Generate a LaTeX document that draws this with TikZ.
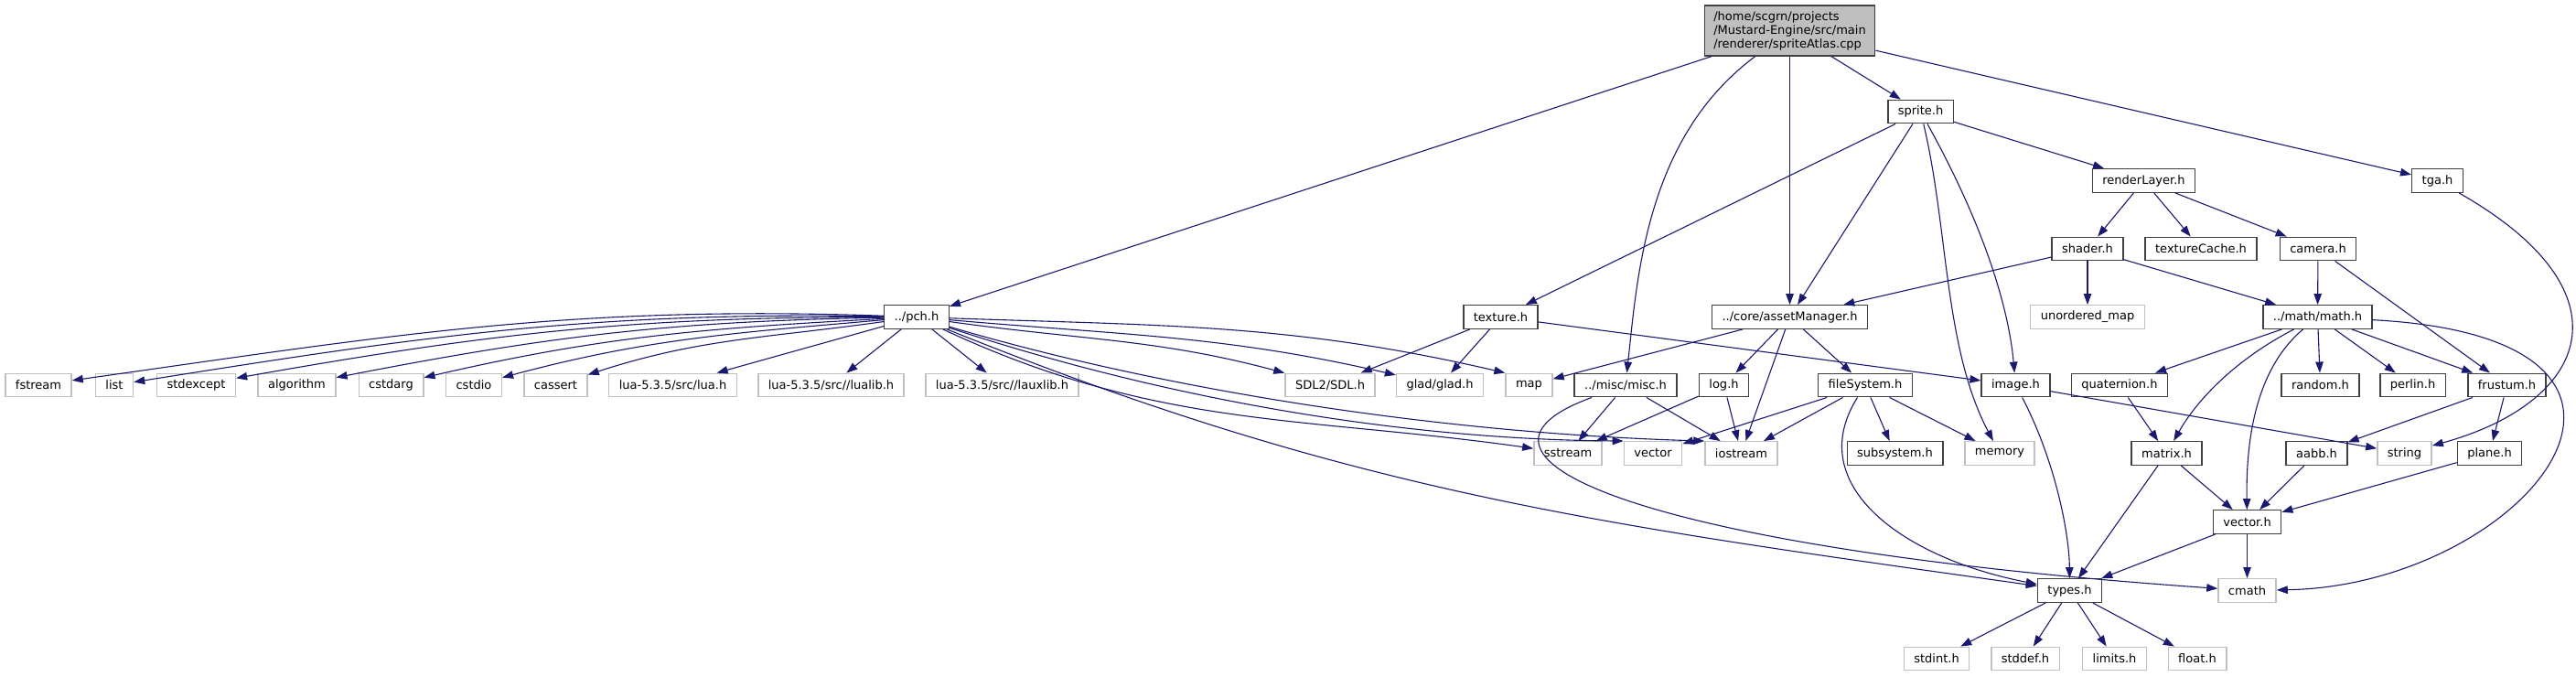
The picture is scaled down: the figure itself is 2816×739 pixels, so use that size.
\documentclass[tikz,border=0pt]{standalone}
\usepackage{fontspec}
\setmainfont{DejaVu Sans}
\usepackage{tikz}
\usepackage{xcolor}
\usetikzlibrary{arrows.meta,positioning}
\definecolor{edgeblue}{RGB}{25,25,112}
\definecolor{docgray}{RGB}{64,64,64}
\definecolor{sysgray}{RGB}{191,191,191}

\begin{document}
\begin{tikzpicture}[x=1pt,y=1pt,
        hdr/.style={rectangle,draw=docgray,fill=white,line width=1.4pt,
          minimum height=25.5pt,inner xsep=11pt,inner ysep=0pt,font=\fontsize{13}{15}\selectfont},
        sys/.style={hdr,draw=sysgray},
        srcfile/.style={hdr,fill=sysgray,align=left,minimum height=55pt,inner xsep=10pt},
        arrow/.style={-{Triangle[length=12pt,width=8.5pt]},draw=edgeblue,line width=1.1pt}]
        \useasboundingbox (0,0) rectangle (2816,-739);
        \node[srcfile] (root) at (1956.5,-33.5) {/home/scgrn/projects\\/Mustard-Engine/src/main\\/renderer/spriteAtlas.cpp};
        \node[hdr] (sprite) at (2099.5,-122) {sprite.h};
        \node[hdr] (rlayer) at (2343.5,-197.5) {renderLayer.h};
        \node[hdr] (tga) at (2664.5,-197.5) {tga.h};
        \node[hdr] (shader) at (2282,-272) {shader.h};
        \node[hdr] (texcache) at (2406,-272) {textureCache.h};
        \node[hdr] (camera) at (2534,-272) {camera.h};
        \node[hdr] (pch) at (1002,-346.5) {../pch.h};
        \node[hdr] (texture) at (1640.5,-346.5) {texture.h};
        \node[hdr] (asset) at (1956.5,-346.5) {../core/assetManager.h};
        \node[sys] (umap) at (2282,-346.5) {unordered\_map};
        \node[hdr] (math) at (2533.5,-346.5) {../math/math.h};
        \node[sys] (fstream) at (42,-421) {fstream};
        \node[sys] (list) at (125,-421) {list};
        \node[sys] (stdexcept) at (214.5,-421) {stdexcept};
        \node[sys] (algorithm) at (324.5,-421) {algorithm};
        \node[sys] (cstdarg) at (427.5,-421) {cstdarg};
        \node[sys] (cstdio) at (518,-421) {cstdio};
        \node[sys] (cassert) at (607.5,-421) {cassert};
        \node[sys] (luah) at (735.5,-421) {lua-5.3.5/src/lua.h};
        \node[sys] (lualib) at (908.5,-421) {lua-5.3.5/src//lualib.h};
        \node[sys] (lauxlib) at (1095.5,-421) {lua-5.3.5/src//lauxlib.h};
        \node[sys] (sdl) at (1454,-421) {SDL2/SDL.h};
        \node[sys] (glad) at (1574,-421) {glad/glad.h};
        \node[sys] (map) at (1671.5,-421) {map};
        \node[hdr] (misc) at (1777,-421) {../misc/misc.h};
        \node[hdr] (log) at (1884.5,-421) {log.h};
        \node[hdr] (fs) at (2039,-421) {fileSystem.h};
        \node[hdr] (image) at (2203.5,-421) {image.h};
        \node[hdr] (quat) at (2317,-421) {quaternion.h};
        \node[hdr] (random) at (2536.5,-421) {random.h};
        \node[hdr] (perlin) at (2637.5,-421) {perlin.h};
        \node[hdr] (frustum) at (2740.5,-421) {frustum.h};
        \node[sys] (sstream) at (1714,-495.5) {sstream};
        \node[sys] (vector) at (1807,-495.5) {vector};
        \node[sys] (iostream) at (1903.5,-495.5) {iostream};
        \node[hdr] (subsys) at (2071.5,-495.5) {subsystem.h};
        \node[sys] (memory) at (2186,-495.5) {memory};
        \node[hdr] (matrix) at (2368.5,-495.5) {matrix.h};
        \node[hdr] (aabb) at (2532.5,-495.5) {aabb.h};
        \node[sys] (string) at (2628.5,-495.5) {string};
        \node[hdr] (plane) at (2721.5,-495.5) {plane.h};
        \node[hdr] (vech) at (2456.5,-570.5) {vector.h};
        \node[hdr] (types) at (2262.5,-645.5) {types.h};
        \node[sys] (cmath) at (2456.5,-645.5) {cmath};
        \node[sys] (stdint) at (2117,-720) {stdint.h};
        \node[sys] (stddef) at (2214,-720) {stddef.h};
        \node[sys] (limits) at (2311.5,-720) {limits.h};
        \node[sys] (float) at (2402,-720) {float.h};
        % source file
        \draw[arrow] (root) -- (pch);
        \draw[arrow] (root) .. controls (1800,-150) and (1790,-300) .. (misc);
        \draw[arrow] (root) -- (asset);
        \draw[arrow] (root) -- (sprite);
        \draw[arrow] (root) -- (tga);
        \draw[arrow] (sprite) -- (texture);
        \draw[arrow] (sprite) -- (asset);
        \draw[arrow] (sprite) .. controls (2130,-250) and (2125,-380) .. (memory);
        \draw[arrow] (sprite) .. controls (2165,-240) and (2195,-330) .. (image);
        \draw[arrow] (sprite) -- (rlayer);
        \draw[arrow] (rlayer) -- (shader);
        \draw[arrow] (rlayer) -- (texcache);
        \draw[arrow] (rlayer) -- (camera);
        \draw[arrow] (tga) .. controls (2880,-320) and (2830,-440) .. (string);
        \draw[arrow] (shader) -- (asset);
        \draw[arrow] (shader) -- (umap);
        \draw[arrow] (shader) -- (math);
        \draw[arrow] (camera) -- (math);
        \draw[arrow] (camera) -- (frustum);
        % pch includes
        \draw[arrow] (pch) to[out=178,in=8] (fstream);
        \draw[arrow] (pch) to[out=179,in=9] (list);
        \draw[arrow] (pch) to[out=180,in=10] (stdexcept);
        \draw[arrow] (pch) to[out=181,in=11] (algorithm);
        \draw[arrow] (pch) to[out=183,in=13] (cstdarg);
        \draw[arrow] (pch) to[out=185,in=15] (cstdio);
        \draw[arrow] (pch) to[out=188,in=18] (cassert);
        \draw[arrow] (pch) -- (luah);
        \draw[arrow] (pch) -- (lualib);
        \draw[arrow] (pch) -- (lauxlib);
        \draw[arrow] (pch) to[out=-8,in=165] (sdl);
        \draw[arrow] (pch) to[out=-5,in=167] (glad);
        \draw[arrow] (pch) to[out=-2,in=167] (map.north west);
        \draw[arrow] (pch) to[out=-25,in=172] (sstream);
        \draw[arrow] (pch) .. controls (1240,-425) and (1500,-480) .. (vector.north west);
        \draw[arrow] (pch) .. controls (1250,-420) and (1550,-473) .. (iostream.north west);
        \draw[arrow] (pch) .. controls (1482,-540) and (1748,-573) .. (types);
        % second level
        \draw[arrow] (texture) -- (sdl);
        \draw[arrow] (texture) -- (glad);
        \draw[arrow] (texture) -- (image);
        \draw[arrow] (asset) -- (map);
        \draw[arrow] (asset) -- (log);
        \draw[arrow] (asset) -- (iostream);
        \draw[arrow] (asset) -- (fs);
        \draw[arrow] (math) -- (quat);
        \draw[arrow] (math) .. controls (2440,-395) and (2400,-440) .. (matrix);
        \draw[arrow] (math) .. controls (2470,-400) and (2455,-470) .. (vech);
        \draw[arrow] (math) -- (random);
        \draw[arrow] (math) -- (perlin);
        \draw[arrow] (math) -- (frustum);
        \draw[arrow] (math) .. controls (2980,-370) and (2760,-640) .. (cmath);
        \draw[arrow] (misc) -- (sstream);
        \draw[arrow] (misc) -- (iostream);
        \draw[arrow] (misc) .. controls (1560,-500) and (1800,-600) .. (cmath);
        \draw[arrow] (log) -- (sstream);
        \draw[arrow] (log) -- (iostream);
        \draw[arrow] (fs) -- (vector);
        \draw[arrow] (fs) -- (iostream);
        \draw[arrow] (fs) -- (subsys);
        \draw[arrow] (fs) -- (memory);
        \draw[arrow] (fs) .. controls (1970,-530) and (2080,-610) .. (types);
        \draw[arrow] (image) .. controls (2245,-500) and (2262,-580) .. (types);
        \draw[arrow] (image) -- (string);
        \draw[arrow] (quat) -- (matrix);
        \draw[arrow] (frustum) -- (aabb);
        \draw[arrow] (frustum) -- (plane);
        \draw[arrow] (matrix) -- (vech);
        \draw[arrow] (matrix) -- (types);
        \draw[arrow] (aabb) -- (vech);
        \draw[arrow] (plane) -- (vech);
        \draw[arrow] (vech) -- (types);
        \draw[arrow] (vech) -- (cmath);
        \draw[arrow] (types) -- (stdint);
        \draw[arrow] (types) -- (stddef);
        \draw[arrow] (types) -- (limits);
        \draw[arrow] (types) -- (float);
      \end{tikzpicture}
\end{document}
